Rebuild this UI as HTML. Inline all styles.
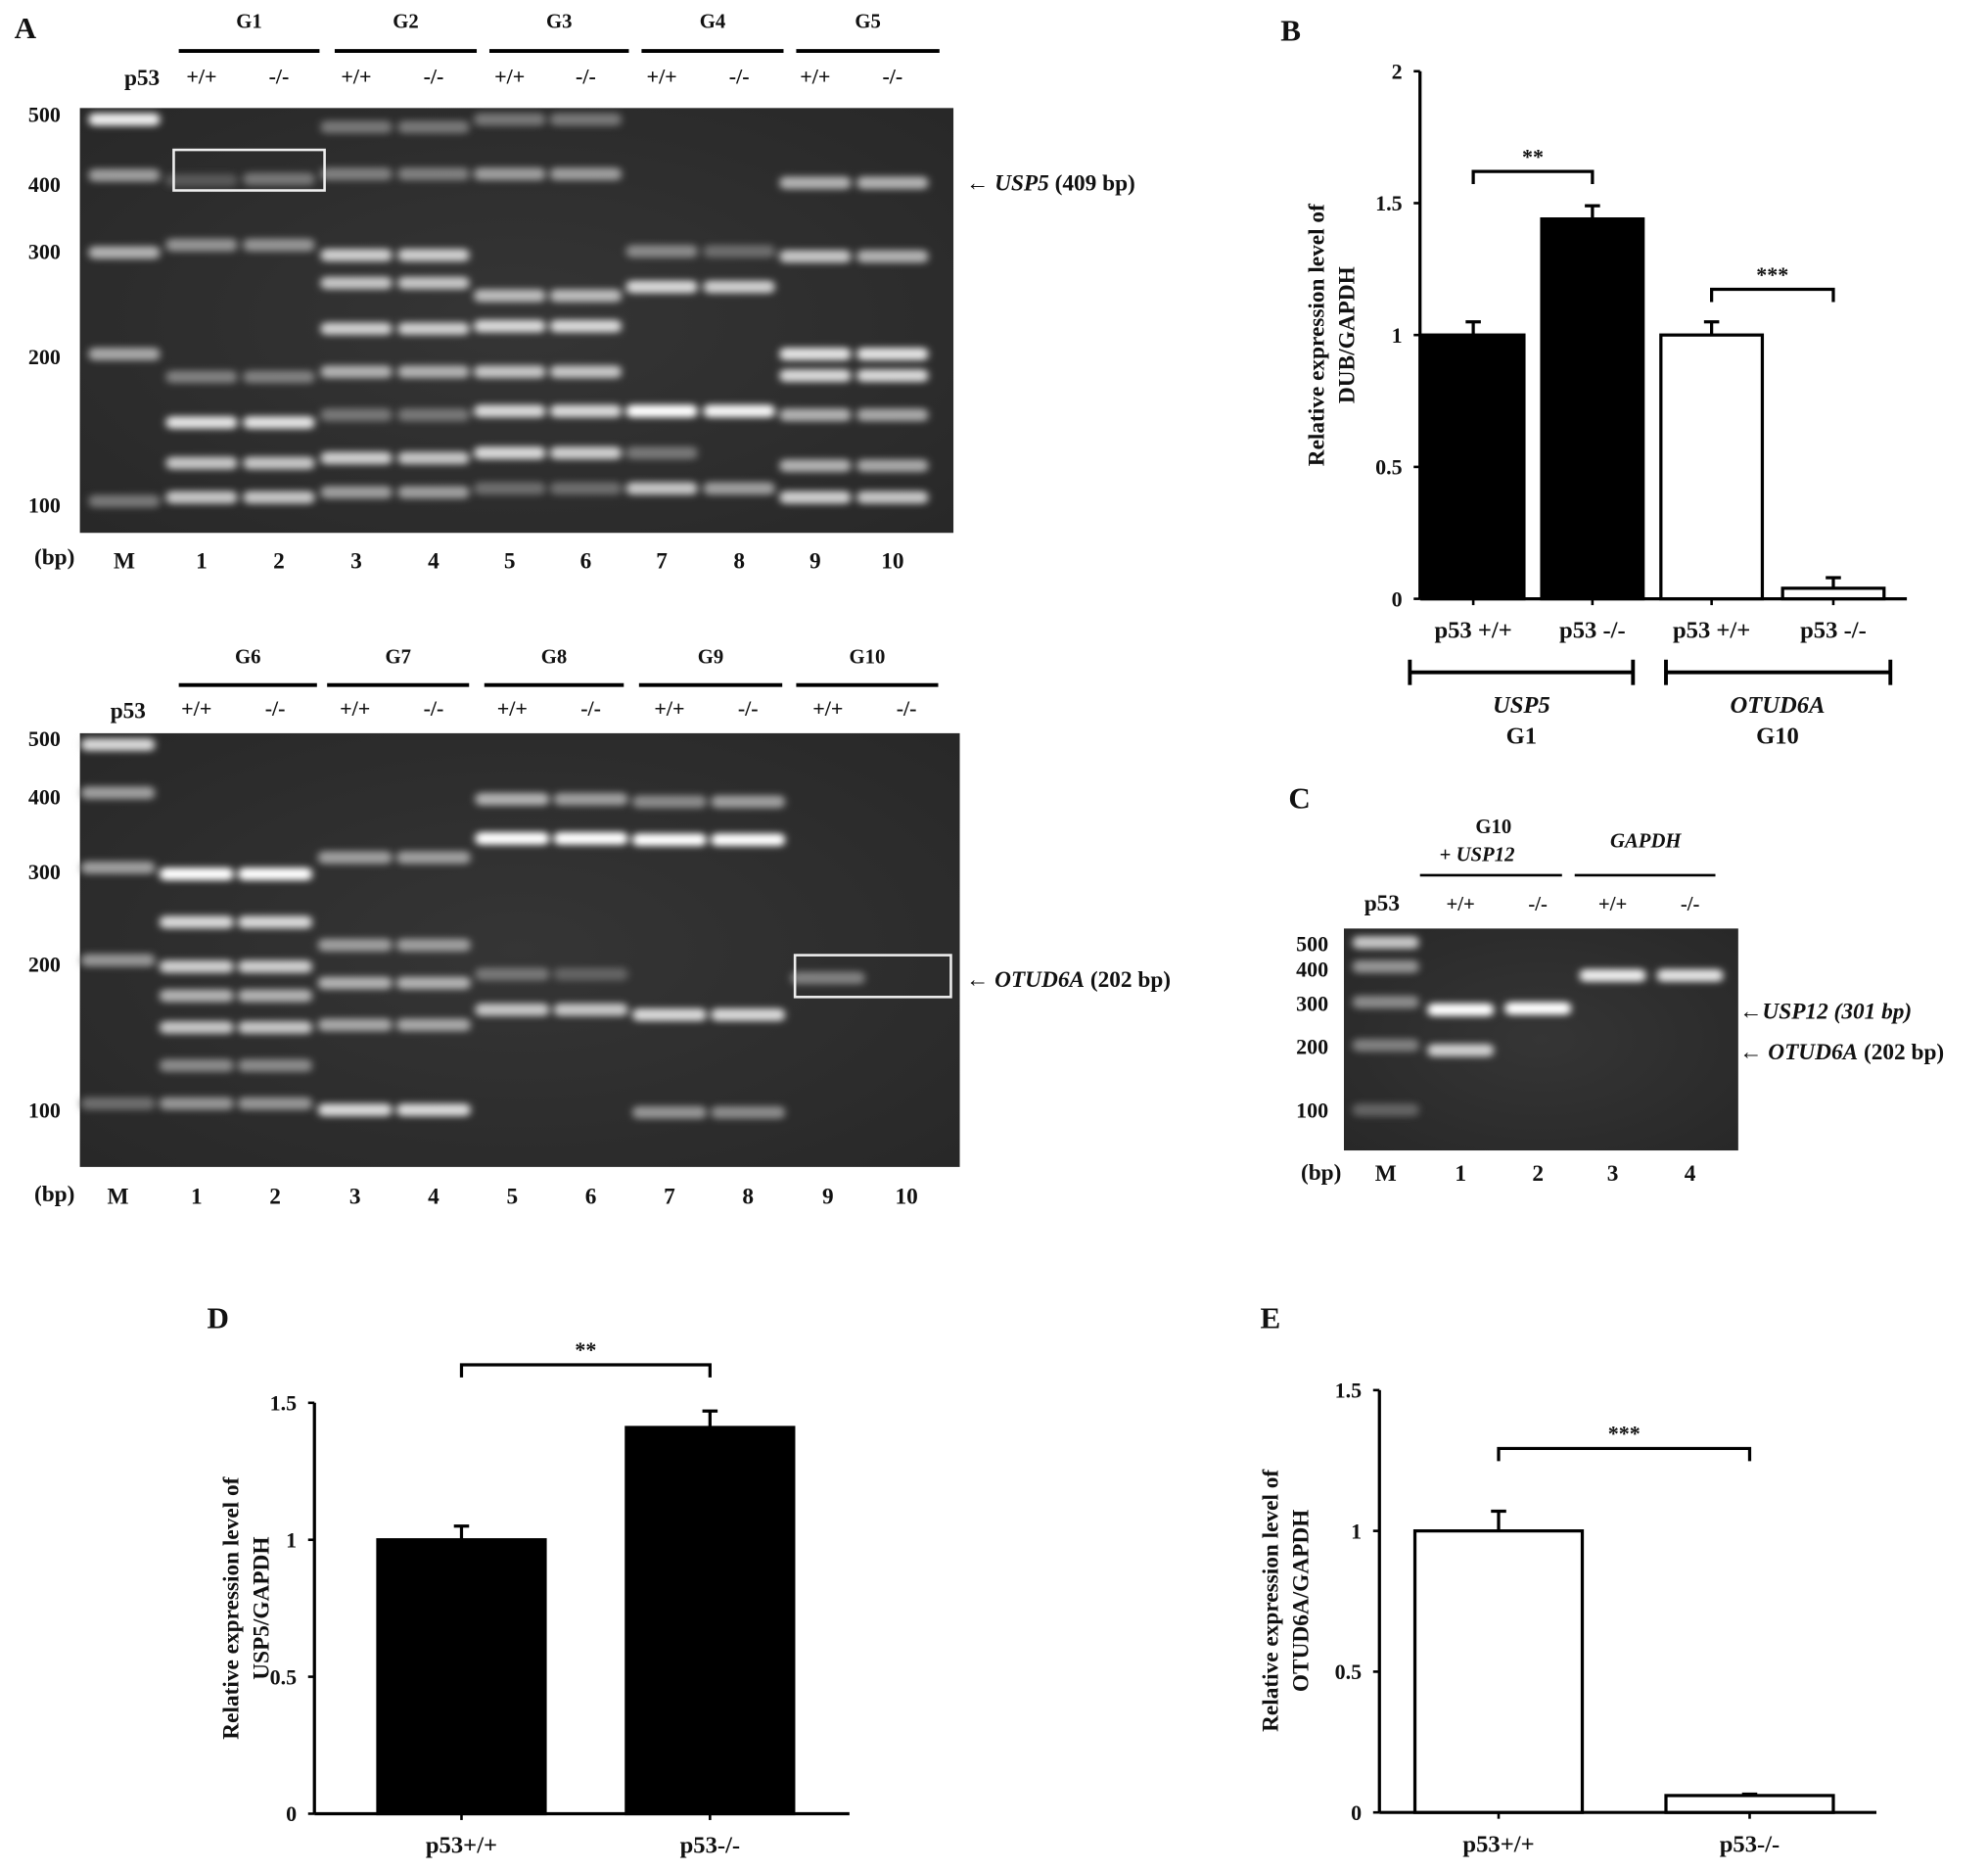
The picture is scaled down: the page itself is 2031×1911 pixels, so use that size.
<!DOCTYPE html>
<html><head><meta charset="utf-8"><style>
html,body{margin:0;padding:0;background:#fff;}
svg{display:block;}
text{font-family:"Liberation Serif",serif;font-weight:bold;fill:#111;}
</style></head><body>
<svg id="fig" width="2031" height="1911" viewBox="0 0 1568 1475" xmlns="http://www.w3.org/2000/svg">
<defs>
<filter id="blur" x="-20%" y="-300%" width="140%" height="700%"><feGaussianBlur stdDeviation="3 2.6"/></filter>
<radialGradient id="gelbg" cx="50%" cy="50%" r="70%"><stop offset="0" stop-color="#353535"/><stop offset="1" stop-color="#282828"/></radialGradient>
</defs>
<g id="root"></g>
</svg>
<script>
// ---------- Chart data ----------
const bCategories = ["p53 +/+","p53 -/-","p53 +/+","p53 -/-"];
const bValues = [1.0, 1.44, 1.0, 0.04];
const bErrors = [0.05, 0.05, 0.05, 0.04];
const bFills = ["black","black","white","white"];
const bTicks = ["0","0.5","1","1.5","2"];
const dCategories = ["p53+/+","p53-/-"];
const dValues = [1.0, 1.41];
const dErrors = [0.05, 0.06];
const dTicks = ["0","0.5","1","1.5"];
const eCategories = ["p53+/+","p53-/-"];
const eValues = [1.0, 0.06];
const eErrors = [0.07, 0.005];
const eTicks = ["0","0.5","1","1.5"];
// gel bands: [lane index, y, brightness]
const gel1Bands = [[0,94,.9],[0,138,.5],[0,199,.6],[0,279,.55],[0,395,.3],
 [1,193,.45],[1,297,.35],[1,333,.85],[1,365,.7],[1,392,.7],[1,142,.15],
 [2,193,.45],[2,297,.35],[2,333,.85],[2,365,.7],[2,392,.7],[2,141,.3],
 [3,100,.3],[3,137,.35],[3,201,.75],[3,223,.7],[3,259,.75],[3,293,.6],[3,327,.3],[3,361,.75],[3,388,.5],
 [4,100,.3],[4,137,.35],[4,201,.75],[4,223,.7],[4,259,.75],[4,293,.6],[4,327,.3],[4,361,.7],[4,388,.5],
 [5,94,.3],[5,137,.5],[5,233,.65],[5,257,.8],[5,293,.7],[5,324,.8],[5,357,.8],[5,385,.25],
 [6,94,.3],[6,137,.5],[6,233,.65],[6,257,.8],[6,293,.7],[6,324,.8],[6,357,.75],[6,385,.25],
 [7,198,.4],[7,226,.8],[7,324,1],[7,357,.3],[7,385,.7],
 [8,198,.25],[8,226,.75],[8,324,.95],[8,385,.5],
 [9,144,.6],[9,202,.7],[9,279,.85],[9,296,.8],[9,327,.6],[9,367,.6],[9,392,.75],
 [10,144,.6],[10,202,.6],[10,279,.85],[10,296,.8],[10,327,.55],[10,367,.55],[10,392,.7]];
const gel2Bands = [[0,587,.8],[0,625,.5],[0,684,.5],[0,757,.45],[0,870,.25],
 [1,689,1],[1,727,.8],[1,762,.75],[1,785,.6],[1,810,.7],[1,840,.4],[1,870,.45],
 [2,689,1],[2,727,.8],[2,762,.75],[2,785,.6],[2,810,.7],[2,840,.4],[2,870,.45],
 [3,676,.5],[3,745,.5],[3,775,.6],[3,808,.55],[3,875,.8],
 [4,676,.5],[4,745,.5],[4,775,.6],[4,808,.55],[4,875,.8],
 [5,630,.6],[5,661,1],[5,768,.3],[5,796,.7],
 [6,630,.5],[6,661,1],[6,768,.2],[6,796,.7],
 [7,632,.4],[7,662,1],[7,800,.8],[7,877,.45],
 [8,632,.5],[8,662,1],[8,800,.8],[8,877,.4],
 [9,771,.35]];
const gel3Bands = [[0,743,.7],[0,762,.45],[0,790,.4],[0,824,.35],[0,875,.2],
 [1,796,1],[1,828,.75],[2,795,1],[3,769,.9],[4,769,.85]];

const NS="http://www.w3.org/2000/svg";
const root=document.getElementById('root');
function el(tag,attrs,parent,txt){const e=document.createElementNS(NS,tag);for(const k in attrs)e.setAttribute(k,attrs[k]);if(txt!==undefined)e.textContent=txt;(parent||root).appendChild(e);return e;}
function T(x,y,s,name,opts){opts=opts||{};const t=el('text',{x:x,y:y,'font-size':opts.fs||17,'text-anchor':opts.a||'middle'},opts.p,s);
if(opts.it)t.setAttribute('font-style','italic');if(opts.rot)t.setAttribute('transform','rotate(-90 '+x+' '+y+')');

return t;}
function L(x1,y1,x2,y2,w,name,p){const l=el('line',{x1:x1,y1:y1,x2:x2,y2:y2,stroke:'#000','stroke-width':w||2},p);

return l;}

// ---------- Gel builder ----------
function gel(name,x0,y0,x1,y1,lanes,bands,bw){
  const g=el('g',{});
  
  
  el('rect',{x:x0,y:y0,width:x1-x0,height:y1-y0,fill:'url(#gelbg)'},g);
  const bg=el('g',{filter:'url(#blur)'},g);
  bands.forEach(b=>{const c=Math.round(60+195*b[2]);
    const r=el('rect',{x:lanes[b[0]]-bw/2,y:b[1]-5,width:bw,height:10,rx:4,fill:'rgb('+c+','+c+','+c+')'},bg);
    
    });
  return g;
}

// ---------- Panel A ----------
T(20,30,'A','panel-a-label',{fs:24,a:'middle'});
const lanesA=[98,159,220,281,342,402,462,522,583,643,704];
gel('gel-top',63,85,752,420,lanesA,gel1Bands,56);
const gtop=[['G1',141,252],['G2',264,376],['G3',386,496],['G4',506,618],['G5',628,741]];
gtop.forEach(g=>{T((g[1]+g[2])/2,22,g[0],'group-label-'+g[0].toLowerCase(),{fs:16});L(g[1],40,g[2],40,3,'group-line');});
T(112,67,'p53','p53-label-top',{fs:18});
for(let i=1;i<=10;i++){T(lanesA[i],66,i%2?'+/+':'-/-','genotype-label',{fs:17});T(lanesA[i],448,String(i),'lane-number',{fs:18});}
T(98,448,'M','marker-lane-label',{fs:18});T(43,445,'(bp)','bp-label-top',{fs:18});
[['500',90],['400',145],['300',198],['200',281],['100',398]].forEach(m=>T(35,m[1]+6,m[0],'size-marker',{fs:17}));
const box1=el('rect',{x:137,y:118,width:119,height:32,fill:'none',stroke:'#eee','stroke-width':2});

const a1=T(762,150,'','usp5-annotation',{a:'start',fs:18});
a1.innerHTML='← <tspan font-style="italic">USP5</tspan> (409 bp)';

const lanesA2=[93,155,217,280,342,404,466,528,590,653,715];
gel('gel-bottom',63,578,757,920,lanesA2,gel2Bands,58);
const gbot=[['G6',141,250],['G7',258,370],['G8',382,492],['G9',504,617],['G10',628,740]];
gbot.forEach(g=>{T((g[1]+g[2])/2,523,g[0],'group-label-'+g[0].toLowerCase(),{fs:16});L(g[1],540,g[2],540,3,'group-line');});
T(101,566,'p53','p53-label-bottom',{fs:18});
for(let i=1;i<=10;i++){T(lanesA2[i],564,i%2?'+/+':'-/-','genotype-label',{fs:17});T(lanesA2[i],949,String(i),'lane-number',{fs:18});}
T(93,949,'M','marker-lane-label',{fs:18});T(43,947,'(bp)','bp-label-bottom',{fs:18});
[['500',582],['400',628],['300',687],['200',760],['100',875]].forEach(m=>T(35,m[1]+6,m[0],'size-marker',{fs:17}));
const box2=el('rect',{x:627,y:753,width:123,height:33,fill:'none',stroke:'#eee','stroke-width':2});

const a2=T(762,778,'','otud6a-annotation',{a:'start',fs:18});
a2.innerHTML='← <tspan font-style="italic">OTUD6A</tspan> (202 bp)';

// ---------- Panel C ----------
T(1025,637,'C','panel-c-label',{fs:24});
const lanesC=[1093,1152,1213,1272,1333];
gel('gel-c',1060,732,1371,907,lanesC,gel3Bands,52);
T(1178,657,'G10','g10-label',{fs:16});
const pu=T(1165,679,'','usp12-header',{fs:16});pu.innerHTML='+ <tspan font-style="italic">USP12</tspan>';
T(1298,668,'GAPDH','gapdh-header',{fs:16,it:true});
L(1120,690,1232,690,2,'group-line');L(1242,690,1353,690,2,'group-line');
T(1090,718,'p53','p53-label-c',{fs:18});
['+/+','-/-','+/+','-/-'].forEach((s,i)=>T(lanesC[i+1],718,s,'genotype-label',{fs:16}));
T(1093,931,'M','marker-lane-label',{fs:18});for(let i=1;i<=4;i++)T(lanesC[i],931,String(i),'lane-number',{fs:18});
T(1042,930,'(bp)','bp-label-c',{fs:18});
[['500',745],['400',765],['300',792],['200',826],['100',876]].forEach(m=>T(1035,m[1]+5,m[0],'size-marker',{fs:17}));
const c1=T(1372,803,'','usp12-annotation',{a:'start',fs:18});c1.innerHTML='←<tspan font-style="italic">USP12 (301 bp)</tspan>';
const c2=T(1372,835,'','otud6a-annotation-c',{a:'start',fs:18});c2.innerHTML='← <tspan font-style="italic">OTUD6A</tspan> (202 bp)';

// ---------- Bar chart builder ----------
function barChart(cfg){
  const g=el('g',{});
  const y=v=>cfg.y0-(v/cfg.max)*(cfg.y0-cfg.yTop);
  L(cfg.ax,cfg.yTop,cfg.ax,cfg.y0,2.5,'y-axis',g);
  L(cfg.ax,cfg.y0,cfg.xEnd,cfg.y0,2.5,'x-axis',g);
  cfg.ticks.forEach(t=>{const v=parseFloat(t);L(cfg.ax-5,y(v),cfg.ax,y(v),2,'y-tick',g);T(cfg.ax-14,y(v)+6,t,'y-tick-label',{fs:17,a:'end',p:g});});
  cfg.values.forEach((v,i)=>{
    const xc=cfg.xs[i];
    const r=el('rect',{x:xc-cfg.bw/2,y:y(v),width:cfg.bw,height:cfg.y0-y(v),fill:cfg.fills[i],stroke:'#000','stroke-width':2.5},g);
    
    
    L(xc,y(v),xc,y(v+cfg.errs[i]),2.5,'error-bar',g);
    L(xc-6,y(v+cfg.errs[i]),xc+6,y(v+cfg.errs[i]),2.5,'error-cap',g);
    L(xc,cfg.y0,xc,cfg.y0+5,2,'x-tick',g);
    T(xc,cfg.y0+31,cfg.cats[i],'x-category-label',{fs:19,p:g});
  });
  cfg.sig.forEach(s=>{
    const a=cfg.xs[s[0]],b=cfg.xs[s[1]],yy=s[2];
    const p=el('path',{d:`M${a} ${yy+10}V${yy}H${b}V${yy+10}`,fill:'none',stroke:'#000','stroke-width':2.5},g);
    
    T((a+b)/2,yy-6,s[3],'significance-stars',{fs:17,p:g});
  });
  T(cfg.tx,cfg.tyc,cfg.t1,'y-axis-title',{fs:18,rot:true,p:g});
  T(cfg.tx+24,cfg.tyc,cfg.t2,'y-axis-title-line2',{fs:18,rot:true,p:g});
  return g;
}
T(1018,32,'B','panel-b-label',{fs:24});
barChart({name:'chart-b',ax:1120,y0:472,yTop:56,max:2,xEnd:1504,ticks:bTicks,values:bValues,errs:bErrors,fills:bFills,cats:bCategories,
 xs:[1162,1256,1350,1446],bw:80,sig:[[0,1,135,'**'],[2,3,228,'***']],tx:1044,tyc:264,t1:'Relative expression level of',t2:'DUB/GAPDH'});
L(1112,530,1288,530,3,'group-bracket-usp5');L(1112,520,1112,540,3,'bracket-end');L(1288,520,1288,540,3,'bracket-end');
L(1314,530,1491,530,3,'group-bracket-otud6a');L(1314,520,1314,540,3,'bracket-end');L(1491,520,1491,540,3,'bracket-end');
T(1200,562,'USP5','group-gene-usp5',{fs:19,it:true});T(1200,586,'G1','group-g1',{fs:19});
T(1402,562,'OTUD6A','group-gene-otud6a',{fs:19,it:true});T(1402,586,'G10','group-g10',{fs:19});

T(172,1047,'D','panel-d-label',{fs:24});
barChart({name:'chart-d',ax:248,y0:1430,yTop:1106,max:1.5,xEnd:670,ticks:dTicks,values:dValues,errs:dErrors,fills:['black','black'],cats:dCategories,
 xs:[364,560],bw:132,sig:[[0,1,1076,'**']],tx:188,tyc:1268,t1:'Relative expression level of',t2:'USP5/GAPDH'});

T(1002,1047,'E','panel-e-label',{fs:24});
barChart({name:'chart-e',ax:1088,y0:1429,yTop:1096,max:1.5,xEnd:1480,ticks:eTicks,values:eValues,errs:eErrors,fills:['white','white'],cats:eCategories,
 xs:[1182,1380],bw:132,sig:[[0,1,1142,'***']],tx:1008,tyc:1262,t1:'Relative expression level of',t2:'OTUD6A/GAPDH'});
</script>
</body></html>
